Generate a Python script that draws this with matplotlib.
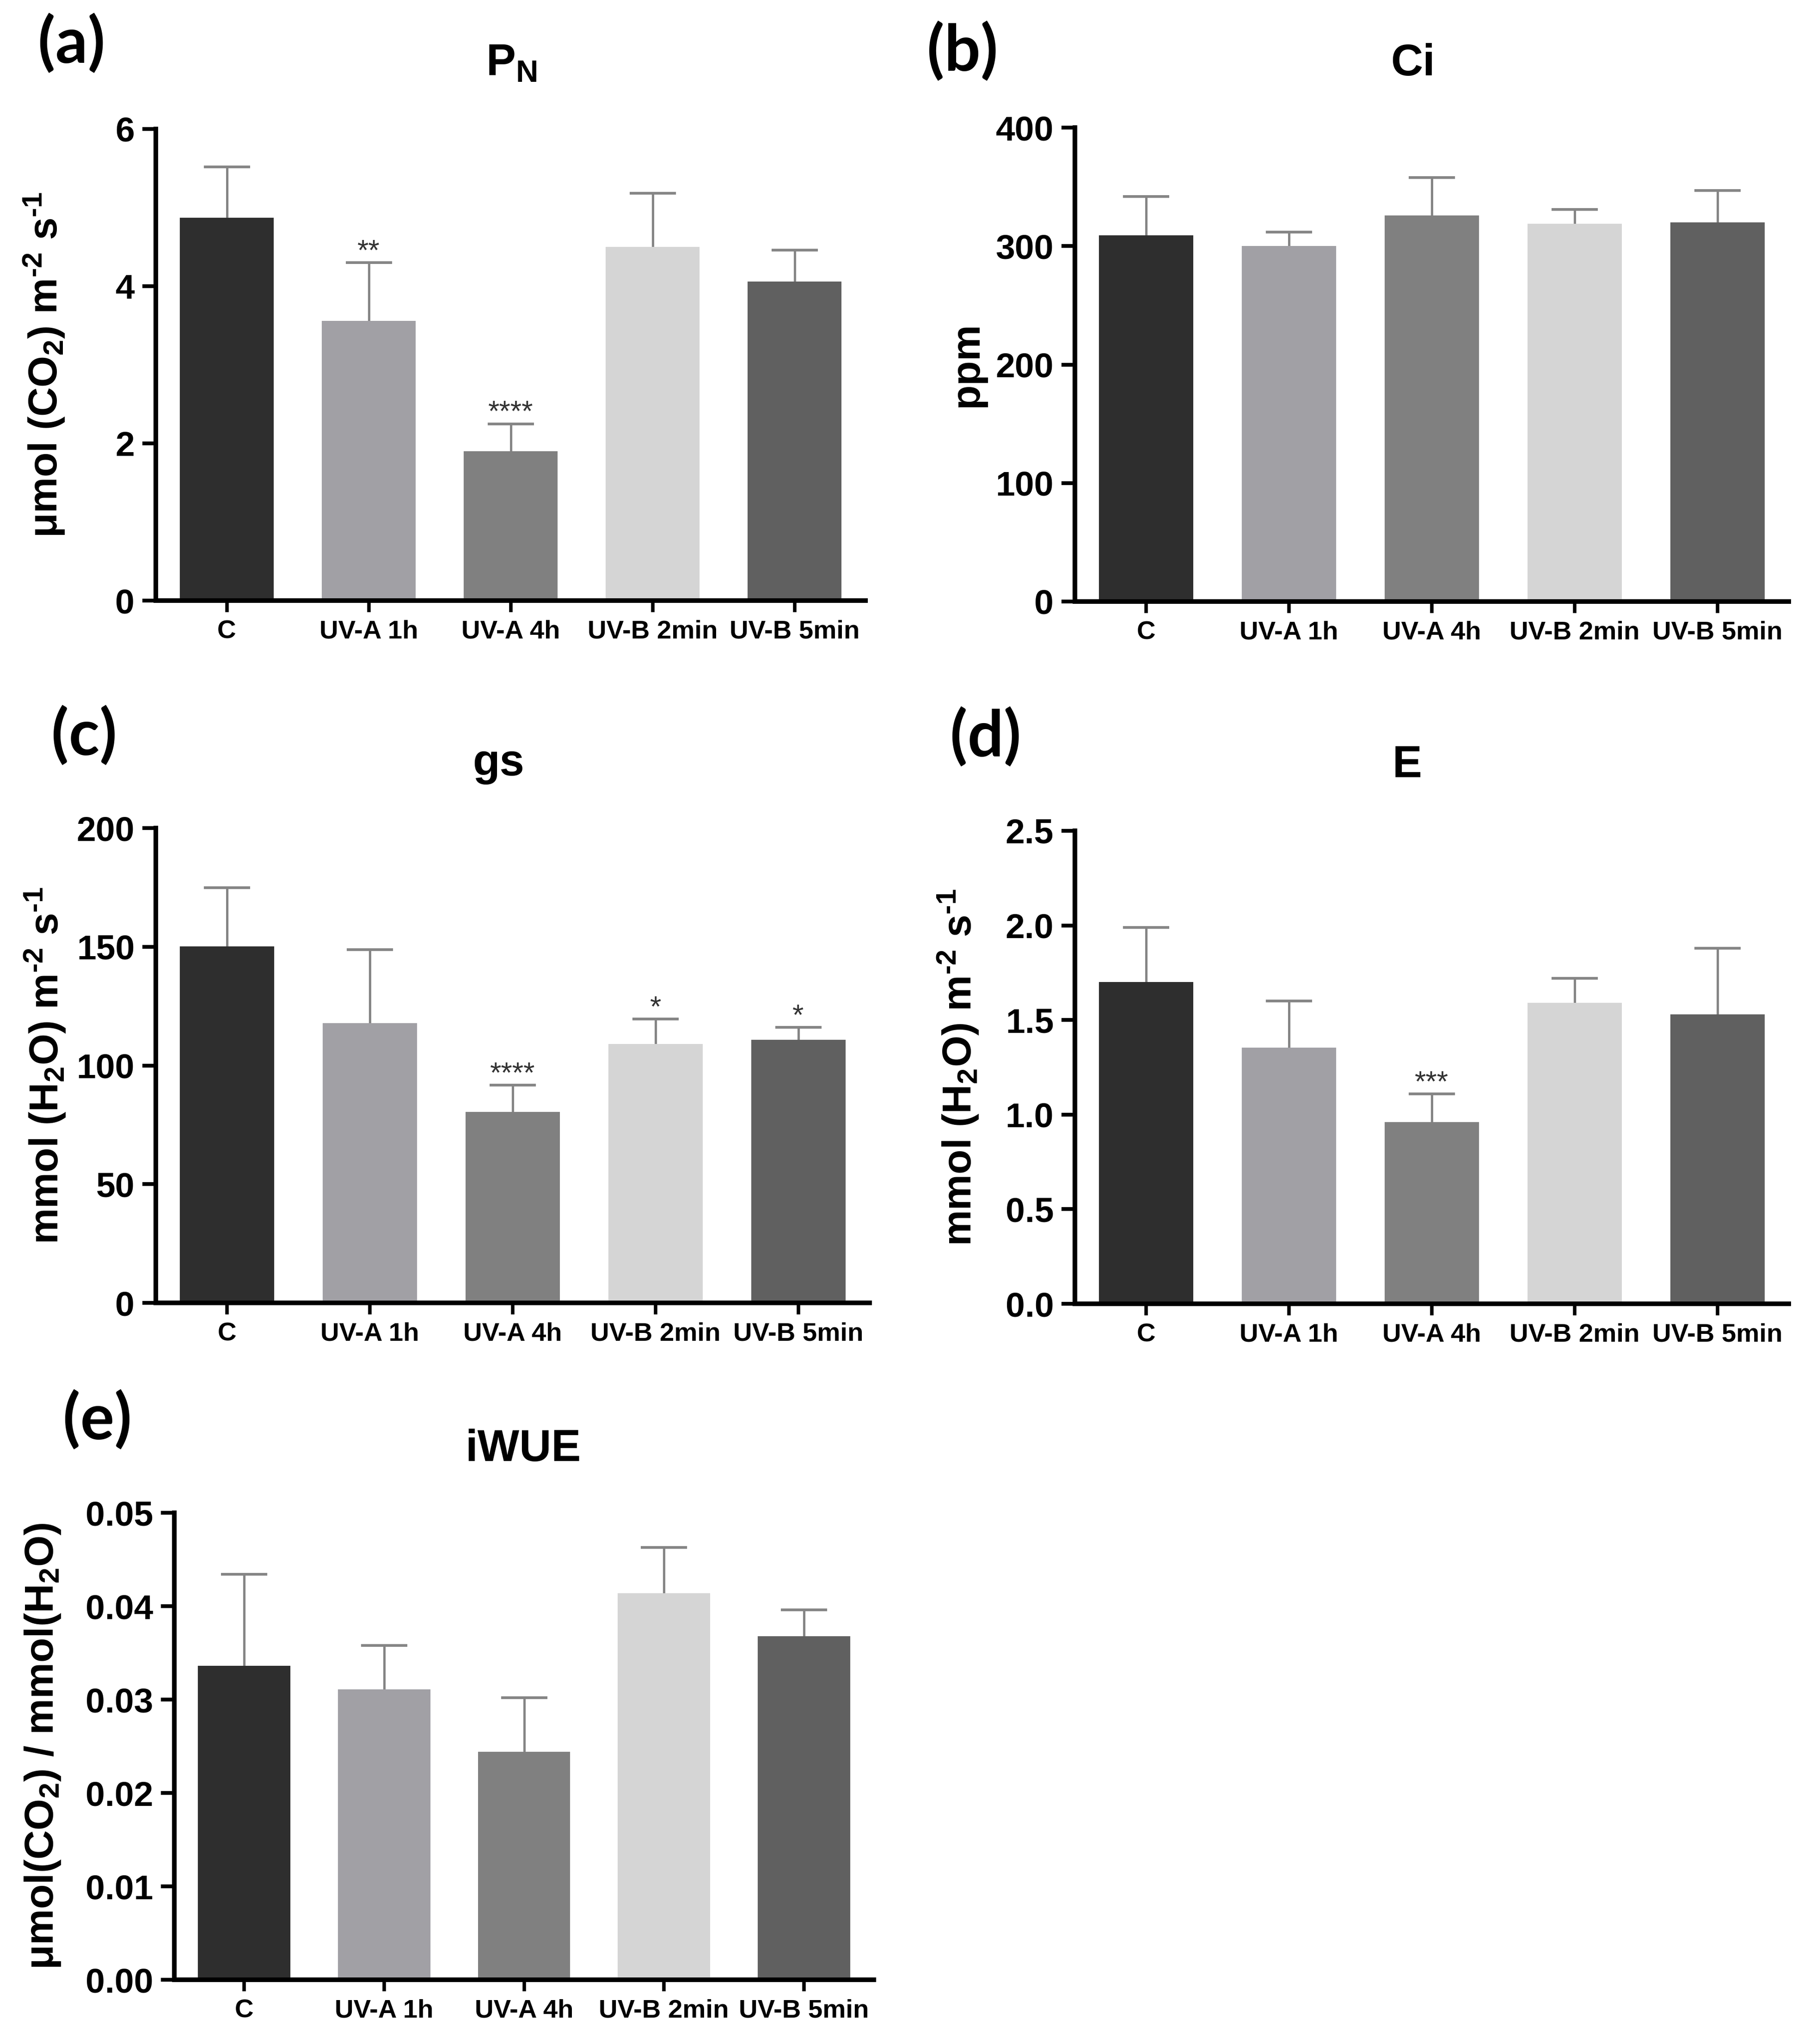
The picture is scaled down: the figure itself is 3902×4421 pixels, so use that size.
import matplotlib
matplotlib.use('Agg')
import matplotlib.pyplot as plt
import numpy as np

plt.rcParams['font.family'] = ['Liberation Sans', 'DejaVu Sans']
plt.rcParams['mathtext.default'] = 'regular'

groups = ['C', 'UV-A 1h', 'UV-A 4h', 'UV-B 2min', 'UV-B 5min']
colors = ['#2e2e2e', '#a1a0a5', '#808080', '#d5d5d5', '#606060']

pn_mean = [4.87, 3.56, 1.90, 4.50, 4.06]
pn_err = [0.65, 0.74, 0.35, 0.68, 0.40]
pn_sig = ['', '**', '****', '', '']

ci_mean = [309, 300, 326, 319, 320]
ci_err = [33, 12, 32, 12, 27]
ci_sig = ['', '', '', '', '']

gs_mean = [150.2, 117.8, 80.5, 109.1, 110.9]
gs_err = [24.6, 31.0, 11.3, 10.4, 5.1]
gs_sig = ['', '', '****', '*', '*']

e_mean = [1.70, 1.355, 0.96, 1.59, 1.53]
e_err = [0.29, 0.245, 0.15, 0.13, 0.35]
e_sig = ['', '', '***', '', '']

wue_mean = [0.0336, 0.0311, 0.0244, 0.0414, 0.0368]
wue_err = [0.0098, 0.0047, 0.0058, 0.0049, 0.0028]
wue_sig = ['', '', '', '', '']

W, H = 3902, 4421
fig = plt.figure(figsize=(W / 300, H / 300), dpi=300)


def rect(l, r, t, b):
  return [l / W, 1 - b / H, (r - l) / W, (b - t) / H]


def panel(box, mean, err, sig, ylim, step, fmt, ylabel, label_x,
          title, title_xy, tag, tag_xy):
  ax = fig.add_axes(rect(*box))
  x = np.arange(len(groups))
  ax.errorbar(x, mean, yerr=err, fmt='none', ecolor='#858585',
              elinewidth=1.2, capsize=12, capthick=1.4, zorder=1)
  ax.bar(x, mean, width=0.66, color=colors, zorder=2)
  for i, s in enumerate(sig):
    if s:
      ax.annotate(s, (i, mean[i] + err[i]), xytext=(0, 1.5),
                  textcoords='offset points', ha='center', va='baseline',
                  fontsize=15, color='#333333')

  ax.set_xlim(-0.5, 4.5)
  ax.set_ylim(*ylim)
  ax.set_yticks(np.arange(ylim[0], ylim[1] + step / 2, step))
  ax.yaxis.set_major_formatter(plt.FormatStrFormatter(fmt))
  ax.set_xticks(x)
  ax.set_xticklabels(groups, fontsize=13.5, fontweight='bold')
  for t in ax.get_yticklabels():
    t.set_fontsize(18)
    t.set_fontweight('bold')

  for side in ['top', 'right']:
    ax.spines[side].set_visible(False)
  for side in ['left', 'bottom']:
    ax.spines[side].set_linewidth(2.4)
  ax.tick_params(axis='y', length=7, width=2.0, pad=4)
  ax.tick_params(axis='x', length=6, width=1.8, pad=4)

  ax.set_ylabel(ylabel, fontsize=21, fontweight='bold')
  ax.yaxis.set_label_coords(label_x, 0.5)

  fig.text(title_xy[0] / W, 1 - title_xy[1] / H, title, fontsize=23,
           fontweight='bold', ha='center', va='baseline')
  fig.text(tag_xy[0] / W, 1 - tag_xy[1] / H, tag, fontsize=33,
           fontweight='bold', ha='left', va='baseline',
           family=['Lato', 'DejaVu Sans'])
  return ax


# superscripts use a hyphen (U+2010) like the original, not a minus sign
flux_co2 = 'μmol (CO$_2$) m$^{\u20102}$ s$^{\u20101}$'
flux_h2o = 'mmol (H$_2$O) m$^{\u20102}$ s$^{\u20101}$'

panel((337, 1872, 279, 1299), pn_mean, pn_err, pn_sig, (0, 6), 2, '%d',
      flux_co2, -0.126,
      r'P$_N$', (1106, 163), '(a)', (82, 136))
panel((2325, 3869, 276, 1301), ci_mean, ci_err, ci_sig, (0, 400), 100, '%d',
      'ppm', -0.125,
      'Ci', (3056, 163), '(b)', (2005, 153))
panel((337, 1881, 1791, 2818), gs_mean, gs_err, gs_sig, (0, 200), 50, '%d',
      flux_h2o, -0.124,
      'gs', (1078, 1677), '(c)', (111, 1633))
panel((2325, 3869, 1797, 2820), e_mean, e_err, e_sig, (0, 2.5), 0.5, '%.1f',
      flux_h2o, -0.132,
      'E', (3044, 1681), '(d)', (2055, 1636))
panel((377, 1890, 3272, 4282), wue_mean, wue_err, wue_sig, (0, 0.05), 0.01, '%.2f',
      r'μmol(CO$_2$) / mmol(H$_2$O)', -0.16,
      'iWUE', (1131, 3160), '(e)', (136, 3113))

fig.savefig('out.png', dpi=300, facecolor='white')
